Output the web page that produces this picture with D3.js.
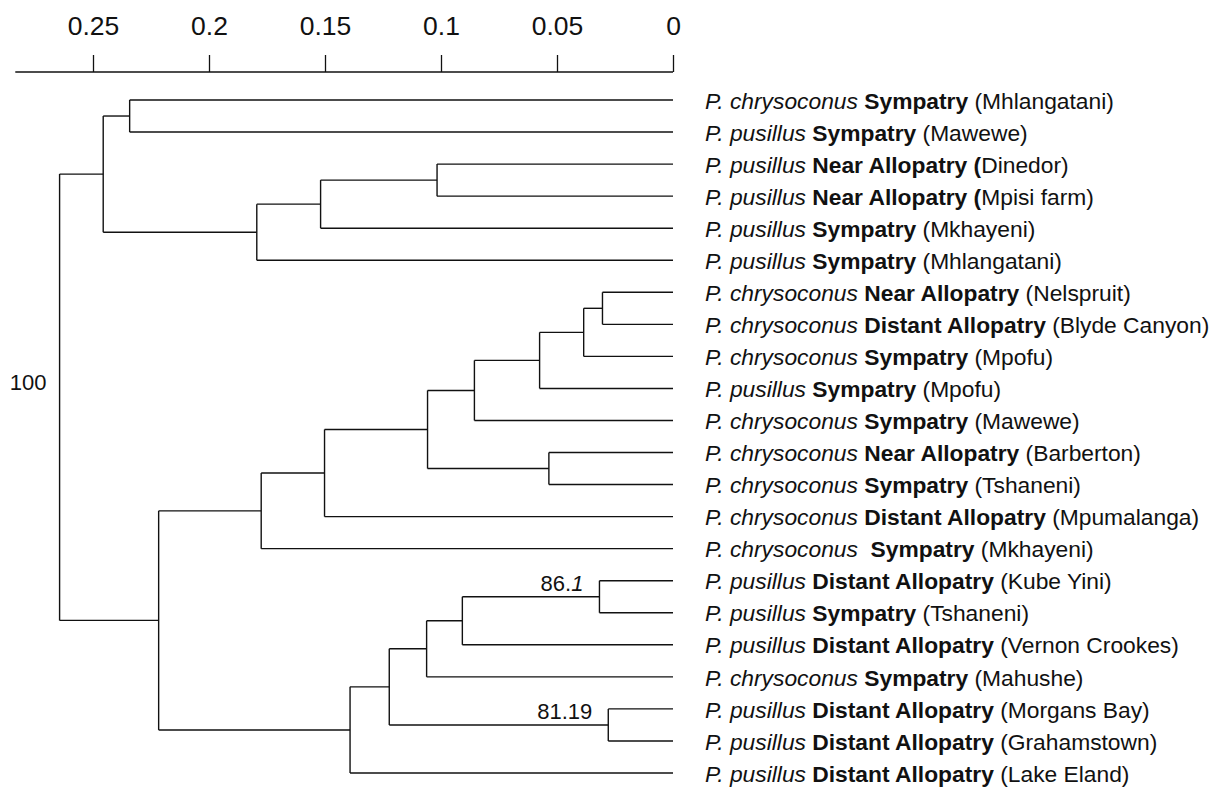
<!DOCTYPE html>
<html>
<head>
<meta charset="utf-8">
<script src="https://cdn.jsdelivr.net/npm/d3@7/dist/d3.min.js"></script>
<style>
  html, body { margin: 0; padding: 0; background: #fff; }
  svg { display: block; font-family: "Liberation Sans", Arial, Helvetica, sans-serif; }
  .leaf text { white-space: pre; }
</style>
</head>
<body>
<svg id="chart" width="1220" height="789"></svg>
<script>
// Leaf labels, top to bottom: species (italic), range status (bold), locality
const leafSpecies = [
  "P. chrysoconus", "P. pusillus", "P. pusillus", "P. pusillus", "P. pusillus", "P. pusillus",
  "P. chrysoconus", "P. chrysoconus", "P. chrysoconus", "P. pusillus", "P. chrysoconus",
  "P. chrysoconus", "P. chrysoconus", "P. chrysoconus", "P. chrysoconus ",
  "P. pusillus", "P. pusillus", "P. pusillus", "P. chrysoconus", "P. pusillus", "P. pusillus", "P. pusillus"
];
const leafStatus = [
  "Sympatry", "Sympatry", "Near Allopatry (", "Near Allopatry (", "Sympatry", "Sympatry",
  "Near Allopatry", "Distant Allopatry", "Sympatry", "Sympatry", "Sympatry",
  "Near Allopatry", "Sympatry", "Distant Allopatry", "Sympatry",
  "Distant Allopatry", "Sympatry", "Distant Allopatry", "Sympatry", "Distant Allopatry",
  "Distant Allopatry", "Distant Allopatry"
];
const leafSite = [
  "(Mhlangatani)", "(Mawewe)", "Dinedor)", "Mpisi farm)", "(Mkhayeni)", "(Mhlangatani)",
  "(Nelspruit)", "(Blyde Canyon)", "(Mpofu)", "(Mpofu)", "(Mawewe)",
  "(Barberton)", "(Tshaneni)", "(Mpumalanga)", "(Mkhayeni)",
  "(Kube Yini)", "(Tshaneni)", "(Vernon Crookes)", "(Mahushe)", "(Morgans Bay)",
  "(Grahamstown)", "(Lake Eland)"
];

// Agglomeration steps: ids 0-21 are leaves, each merge creates id 22, 23, ...
const mergeLeft   = [ 2,  0, 22, 24, 23,  6, 27, 28, 29, 11, 30, 32, 33, 15, 35, 36, 19, 37, 39, 34, 26];
const mergeRight  = [ 3,  1,  4,  5, 25,  7,  8,  9, 10, 12, 31, 13, 14, 16, 17, 18, 20, 38, 21, 40, 41];
const mergeHeight = [0.1017, 0.2342, 0.1519, 0.1794, 0.2456, 0.0304, 0.0385, 0.0575, 0.0856, 0.0535,
                     0.1058, 0.1502, 0.1775, 0.0317, 0.0908, 0.1062, 0.0279, 0.1223, 0.1392, 0.2217, 0.2644];
// Support values shown at some nodes (merge index -> text parts, second part italic)
const supportMerge = [20, 13, 16];
const supportText  = [["100", ""], ["86.", "1"], ["81.19", ""]];

const axisTicks = [0.25, 0.2, 0.15, 0.1, 0.05, 0];
const axisTickLabels = ["0.25", "0.2", "0.15", "0.1", "0.05", "0"];

// Build the nested tree from the merge table
const nodes = leafSpecies.map((s, i) => ({ id: i, height: 0 }));
mergeLeft.forEach((l, k) => {
  nodes.push({ id: nodes.length, height: mergeHeight[k], merge: k, children: [nodes[l], nodes[mergeRight[k]]] });
});
const root = d3.hierarchy(nodes[nodes.length - 1]);

const svg = d3.select("#chart");
const x = d3.scaleLinear().domain([0, 0.25]).range([673, 93]);
const y = d3.scalePoint().domain(d3.range(leafSpecies.length)).range([100, 773]);

// Position: leaves by order, internal nodes at midpoint of first/last child
root.eachAfter(n => {
  n.px = x(n.data.height);
  if (!n.children) n.py = y(n.data.id);
  else n.py = (n.children[0].py + n.children[n.children.length - 1].py) / 2;
});

const ink = "#111";

// Axis across the top
const axisY = 72;
const axisG = svg.append("g")
  .attr("transform", `translate(0,${axisY})`)
  .call(d3.axisTop(x).tickValues(axisTicks).tickFormat((d, i) => axisTickLabels[i])
    .tickSize(17).tickPadding(20).tickSizeOuter(0));
axisG.select(".domain").remove();
axisG.selectAll(".tick line").attr("stroke", ink).attr("stroke-width", 1.3);
axisG.selectAll(".tick text").attr("font-size", 26.5).attr("fill", ink)
  .attr("font-family", "'Liberation Sans', Arial, sans-serif");
axisG.append("line")
  .attr("x1", x(0.2835)).attr("x2", x(0))
  .attr("y1", 0).attr("y2", 0)
  .attr("stroke", ink).attr("stroke-width", 1.3);

// Elbow links
const links = svg.append("g").attr("fill", "none").attr("stroke", ink).attr("stroke-width", 1.4);
root.descendants().filter(n => n.children).forEach(n => {
  const top = n.children[0].py, bot = n.children[n.children.length - 1].py;
  links.append("line").attr("x1", n.px).attr("x2", n.px).attr("y1", top).attr("y2", bot);
  n.children.forEach(c => {
    links.append("line").attr("x1", n.px).attr("x2", c.px).attr("y1", c.py).attr("y2", c.py);
  });
});

// Leaf labels
const leafG = svg.append("g").attr("class", "leaf").attr("font-size", 22.8).attr("fill", ink);
root.leaves().forEach(n => {
  const i = n.data.id;
  const t = leafG.append("text")
    .attr("x", n.px + 32).attr("y", n.py).attr("dy", "0.38em")
    .attr("xml:space", "preserve");
  t.append("tspan").attr("font-style", "italic").text(leafSpecies[i]);
  t.append("tspan").attr("font-weight", "bold").text(" " + leafStatus[i]);
  t.append("tspan").text((leafStatus[i].endsWith("(") ? "" : " ") + leafSite[i]);
});

// Support values at nodes
const supG = svg.append("g").attr("font-size", 22).attr("fill", ink).attr("text-anchor", "end");
root.descendants().filter(n => n.children && supportMerge.includes(n.data.merge)).forEach(n => {
  const k = supportMerge.indexOf(n.data.merge);
  const isRoot = n === root;
  const t = supG.append("text")
    .attr("x", n.px - (isRoot ? 13 : 16))
    .attr("y", isRoot ? n.py - 15 : n.py - 5.5);
  if (isRoot) t.attr("dy", "0.36em");
  t.append("tspan").text(supportText[k][0]);
  if (supportText[k][1]) t.append("tspan").attr("font-style", "italic").text(supportText[k][1]);
});
</script>
</body>
</html>
